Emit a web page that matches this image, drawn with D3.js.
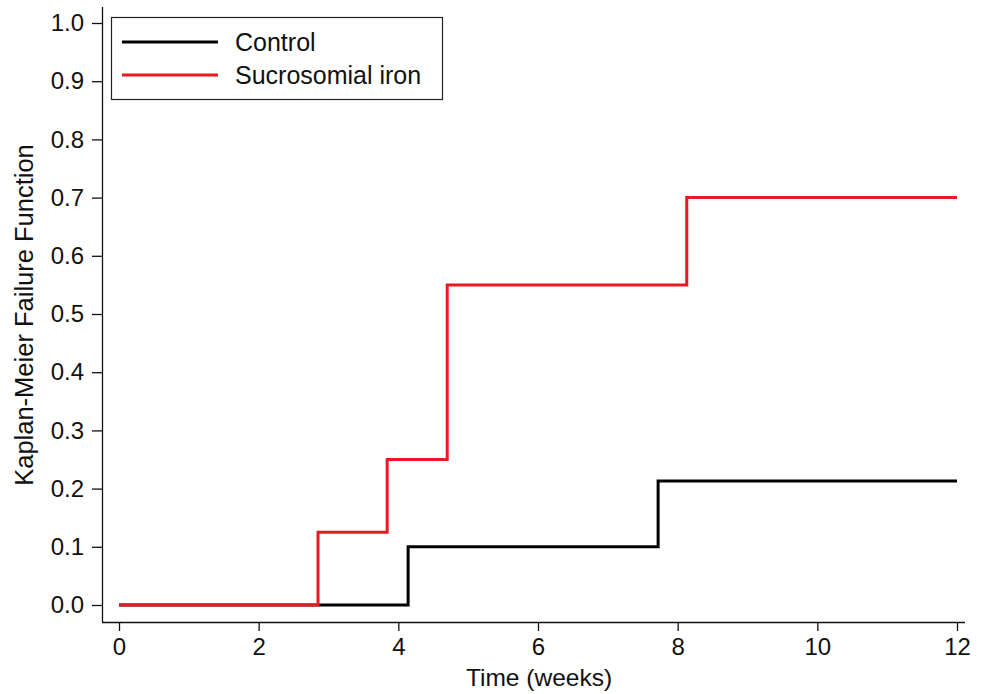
<!DOCTYPE html>
<html><head><meta charset="utf-8">
<script src="https://cdn.jsdelivr.net/npm/d3@7"></script>
<style>body{margin:0;background:#fff}svg{display:block}text{font-family:Arial,"Liberation Sans",sans-serif;fill:#111}</style>
</head><body>
<script>
const controlTimes = [0, 4.14, 7.72, 12];
const controlValues = [0, 0.10, 0.213, 0.213];
const ironTimes = [0, 2.85, 3.84, 4.70, 8.13, 12];
const ironValues = [0, 0.125, 0.25, 0.55, 0.70, 0.70];
const xTicks = [0, 2, 4, 6, 8, 10, 12];
const yTicks = [0, 0.1, 0.2, 0.3, 0.4, 0.5, 0.6, 0.7, 0.8, 0.9, 1.0];
const seriesNames = ["Control", "Sucrosomial iron"];
const seriesColors = ["#000000", "#ea1a22"];

const W = 984, H = 694;
const svg = d3.select("body").append("svg").attr("width", W).attr("height", H);
const x = d3.scaleLinear().domain([0, 12]).range([119, 957]);
const y = d3.scaleLinear().domain([0, 1]).range([605, 23]);

// axes
const xAxis = svg.append("g").attr("transform", "translate(0,622)")
  .call(d3.axisBottom(x).tickValues(xTicks).tickSize(9).tickSizeOuter(0).tickPadding(7).tickFormat(d3.format("d")));
xAxis.select(".domain").attr("d", "M102,0.5H965");
const yAxis = svg.append("g").attr("transform", "translate(102,0)")
  .call(d3.axisLeft(y).tickValues(yTicks).tickSize(10).tickSizeOuter(0).tickPadding(8).tickFormat(d3.format(".1f")));
yAxis.select(".domain").attr("d", "M0.5,7V622");
svg.selectAll(".tick text").style("font-size", "24px").style("font-family", "Arial, 'Liberation Sans', sans-serif").attr("fill", "#111");
svg.selectAll(".tick line, .domain").attr("stroke", "#111").attr("stroke-width", 1.3);

svg.append("text").attr("x", 539).attr("y", 686).attr("text-anchor", "middle").style("font-size", "24.5px").text("Time (weeks)");
svg.append("text").attr("transform", "translate(33,315) rotate(-90)").attr("text-anchor", "middle").style("font-size", "25.5px").text("Kaplan-Meier Failure Function");

const line = d3.line().x(d => x(d[0])).y(d => y(d[1])).curve(d3.curveStepAfter);
const series = [
  {times: controlTimes, values: controlValues},
  {times: ironTimes, values: ironValues}
];
series.forEach((s, i) => {
  const pts = s.times.map((t, j) => [t, s.values[j]]);
  svg.append("path").datum(pts).attr("d", line).attr("fill", "none")
    .attr("stroke", seriesColors[i]).attr("stroke-width", 3).attr("stroke-linejoin", "miter");
});

// legend
const lg = svg.append("g");
lg.append("rect").attr("x", 111.5).attr("y", 17.5).attr("width", 331).attr("height", 82)
  .attr("fill", "#fff").attr("stroke", "#222").attr("stroke-width", 1.2);
seriesNames.forEach((n, i) => {
  const yy = 42 + i * 33;
  lg.append("line").attr("x1", 122).attr("x2", 218).attr("y1", yy).attr("y2", yy)
    .attr("stroke", seriesColors[i]).attr("stroke-width", 3);
  lg.append("text").attr("x", 235).attr("y", yy + 9).style("font-size", "25px").text(n);
});
</script>
</body></html>
